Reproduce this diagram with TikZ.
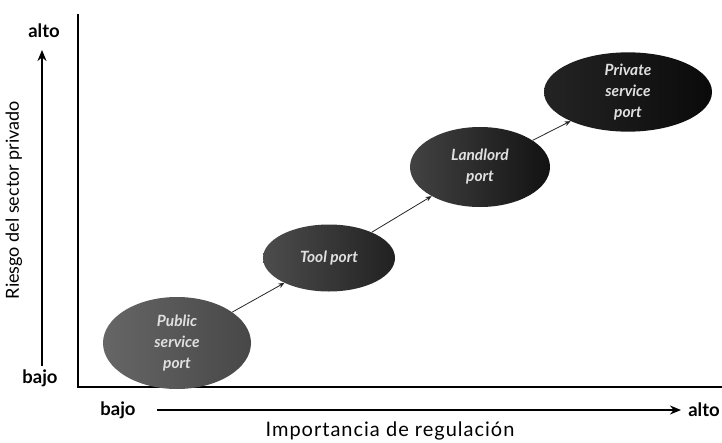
\documentclass[tikz,border=0pt]{standalone}
\usepackage{fontspec}
\setmainfont{Lato}
\usetikzlibrary{shapes.geometric,arrows.meta}
\begin{document}
\begin{tikzpicture}[x=1pt,y=-1pt,
  port/.style={ellipse,inner sep=0pt,text=white!88!black,align=center,
    font=\fontsize{15.5}{21}\selectfont\itshape\bfseries},
  link/.style={-{Stealth[length=6pt,width=5pt]},line width=0.8pt,black!85},
  axisline/.style={line width=2.2pt,black},
  bigarrow/.style={-{Stealth[length=11pt,width=9pt]},line width=1.8pt,black},
  endlabel/.style={font=\fontsize{18.5}{20}\selectfont\bfseries},
]
\useasboundingbox (0,0) rectangle (722,442);
% axes
\coordinate (ytop) at (78,14);
\coordinate (origin) at (78,387);
\coordinate (xend) at (722,387);
\draw[axisline] (ytop) -- (origin) -- (xend);
% y indicator
\coordinate (ya) at (42,366);
\coordinate (yb) at (42,50);
\draw[bigarrow] (ya) -- (yb);
\node[endlabel] (yalto) at (44,31) {alto};
\node[endlabel] (ybajo) at (40,378) {bajo};
\node[rotate=90,font=\fontsize{18}{20}\selectfont] (ylab) at (14,200) {Riesgo del sector privado};
% x indicator
\coordinate (xa) at (157,410);
\coordinate (xb) at (681,410);
\draw[bigarrow] (xa) -- (xb);
\node[endlabel] (xbajo) at (118,410) {bajo};
\node[endlabel] (xalto) at (704,410) {alto};
\node[font=\fontsize{20}{22}\selectfont\addfontfeatures{LetterSpace=5}] (xlab) at (390,431) {Importancia de regulación};
% ports
\node[port,minimum width=148pt,minimum height=92pt,left color=black!60,right color=black!72] (pub) at (177,343) {Public\\service\\port};
\node[port,minimum width=132pt,minimum height=67pt,left color=black!70,right color=black!87] (tool) at (329,258) {Tool port};
\node[port,minimum width=140pt,minimum height=80pt,left color=black!74,right color=black!93] (land) at (480,167) {Landlord\\port};
\node[port,minimum width=168pt,minimum height=75pt,left color=black!86,right color=black!96] (priv) at (628,92) {Private\\service\\port};
\draw[link] (pub) -- (tool);
\draw[link] (tool) -- (land);
\draw[link] (land) -- (priv);
\end{tikzpicture}
\end{document}
